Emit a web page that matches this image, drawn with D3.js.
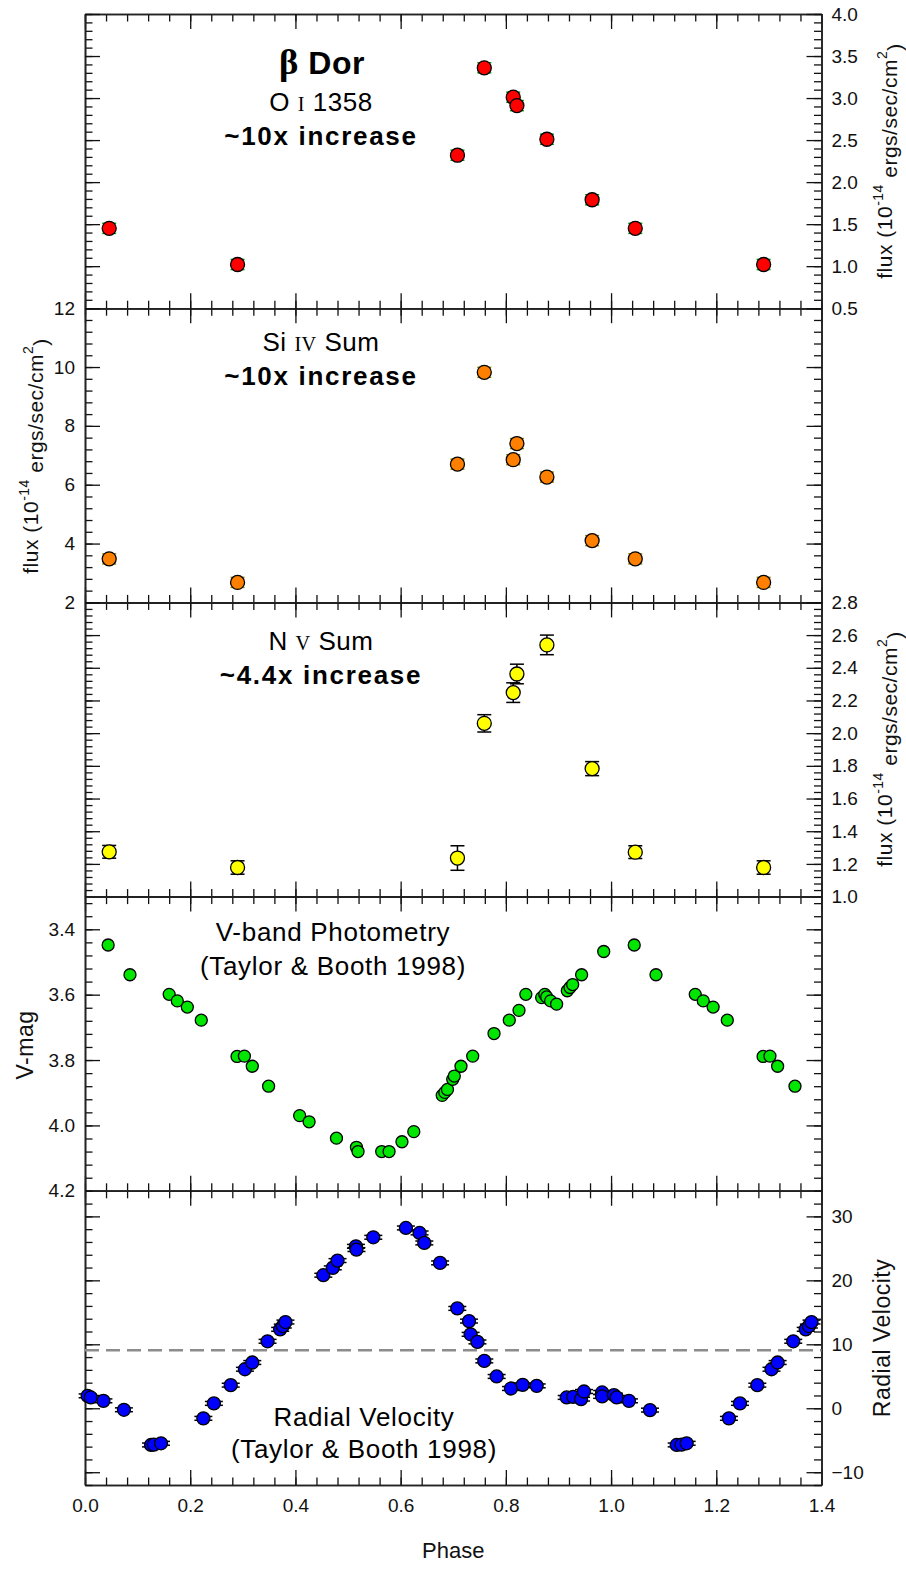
<!DOCTYPE html>
<html>
<head>
<meta charset="utf-8">
<script src="https://cdn.jsdelivr.net/npm/d3@7"></script>
<style>
  body { margin: 0; background: #fff; }
  svg { display: block; font-family: "Liberation Sans", Arial, sans-serif; }
</style>
</head>
<body>
<script>
// ---- data ----
var phaseUV = [0.046, 0.290, 0.708, 0.759, 0.814, 0.821, 0.878, 0.964, 1.046, 1.290];
var fluxOI = [1.45, 1.02, 2.32, 3.36, 3.01, 2.91, 2.51, 1.79, 1.45, 1.02];
var errOI = [0.06, 0.06, 0.06, 0.06, 0.06, 0.06, 0.06, 0.06, 0.06, 0.06];
var fluxSiIV = [3.48, 2.68, 6.70, 9.82, 6.85, 7.40, 6.26, 4.10, 3.48, 2.68];
var errSiIV = [0.17, 0.17, 0.17, 0.17, 0.17, 0.17, 0.17, 0.17, 0.17, 0.17];
var fluxNV = [1.274, 1.178, 1.236, 2.06, 2.248, 2.362, 2.54, 1.783, 1.272, 1.178];
var errNV = [0.039, 0.041, 0.075, 0.053, 0.06, 0.06, 0.06, 0.043, 0.039, 0.041];

var phaseV = [0.044, 0.0855, 0.160, 0.1755, 0.1945, 0.221, 0.289, 0.303, 0.318, 0.349,
  0.408, 0.426, 0.478, 0.516, 0.519, 0.564, 0.578, 0.6025, 0.625, 0.679,
  0.684, 0.689, 0.699, 0.702, 0.7147, 0.737, 0.7775, 0.8065, 0.825, 0.838,
  0.868, 0.874, 0.8776, 0.885, 0.8965, 0.9168, 0.922, 0.927, 0.944, 0.986,
  1.044, 1.0854, 1.160, 1.1753, 1.194, 1.2209, 1.289, 1.302, 1.3166, 1.3496];
var vmag = [3.448, 3.539, 3.599, 3.619, 3.638, 3.678, 3.789, 3.788, 3.819, 3.880,
  3.970, 3.989, 4.039, 4.067, 4.080, 4.080, 4.080, 4.050, 4.019, 3.908,
  3.899, 3.890, 3.859, 3.849, 3.819, 3.788, 3.719, 3.678, 3.648, 3.599,
  3.609, 3.599, 3.607, 3.619, 3.629, 3.588, 3.578, 3.569, 3.539, 3.468,
  3.448, 3.539, 3.599, 3.619, 3.638, 3.678, 3.789, 3.788, 3.819, 3.880];

var phaseRV = [0.005, 0.011, 0.035, 0.074, 0.1255, 0.131, 0.1445, 0.225, 0.245, 0.277,
  0.304, 0.318, 0.347, 0.371, 0.376, 0.381, 0.453, 0.471, 0.480, 0.515,
  0.516, 0.548, 0.610, 0.636, 0.645, 0.675, 0.7077, 0.730, 0.733, 0.746,
  0.759, 0.7825, 0.8097, 0.832, 0.8586, 0.9156, 0.928, 0.943, 0.9485, 0.983,
  0.983, 1.0055, 1.0106, 1.034, 1.074, 1.1247, 1.134, 1.1437, 1.224, 1.245,
  1.278, 1.305, 1.3166, 1.3463, 1.370, 1.376, 1.381];
var rv = [1.94, 1.69, 1.16, -0.24, -5.74, -5.70, -5.48, -1.58, 0.76, 3.61,
  6.10, 7.15, 10.47, 12.34, 12.85, 13.48, 20.80, 21.95, 23.09, 25.32,
  24.81, 26.73, 28.19, 27.41, 25.85, 22.73, 15.61, 13.63, 11.56, 10.37,
  7.40, 4.97, 3.09, 3.66, 3.50, 1.69, 1.78, 1.43, 2.62, 2.47,
  1.85, 2.05, 1.69, 1.16, -0.29, -5.74, -5.70, -5.48, -1.58, 0.76,
  3.61, 6.10, 7.15, 10.47, 12.34, 12.85, 13.48];
var errRV = 0.3;
var rvMean = 9.07;

var xTicks = [0.0, 0.2, 0.4, 0.6, 0.8, 1.0, 1.2, 1.4];

// ---- layout ----
var W = 906, H = 1570,
    left = 85, right = 821.5,
    top0 = 14, panelH = 294.2;

var svg = d3.select("body").append("svg")
    .attr("width", W)
    .attr("height", H);

var x = d3.scaleLinear().domain([0, 1.4]).range([left, right]);
var xMinor = d3.range(0, 1.4001, 0.04);

function rng(a, b, s) { return d3.range(a, b + s / 1000, s); }

var panels = [
  { dom: [0.5, 4.0], major: rng(0.5, 4.0, 0.5), minor: rng(0.5, 4.0, 0.1), side: "right", fmt: ".1f" },
  { dom: [2, 12], major: rng(2, 12, 2), minor: rng(2, 12, 0.4), side: "left", fmt: "d" },
  { dom: [1.0, 2.8], major: rng(1.0, 2.8, 0.2), minor: rng(1.0, 2.8, 0.04), side: "right", fmt: ".1f" },
  { dom: [4.2, 3.3], major: rng(3.4, 4.2, 0.2), minor: rng(3.32, 4.2, 0.04), side: "left", fmt: ".1f" },
  { dom: [-12, 34], major: rng(-10, 30, 10), minor: rng(-12, 34, 2), side: "right", fmt: "d" }
];

panels.forEach(function(p, i) {
  var t = top0 + i * panelH, b = t + panelH;
  p.top = t; p.bottom = b;
  p.y = d3.scaleLinear().domain(p.dom).range([b, t]);
});

function styleAxis(g) {
  g.selectAll("path").attr("stroke", "#222").attr("stroke-width", 1.6);
  g.selectAll("line").attr("stroke", "#111").attr("stroke-width", 1.3);
  g.selectAll("text").attr("font-size", "19px").attr("fill", "#111")
    .attr("font-family", "'Liberation Sans', Arial, sans-serif");
}

// ---- axes / frames ----
panels.forEach(function(p, i) {
  var g = svg.append("g").attr("class", "axes");
  var last = i === panels.length - 1;

  // top edge
  g.append("g").attr("transform", "translate(0," + p.top + ")")
    .call(d3.axisTop(x).tickValues(xMinor).tickSize(-7.5).tickSizeOuter(0).tickFormat(""))
    .call(styleAxis);
  g.append("g").attr("transform", "translate(0," + p.top + ")")
    .call(d3.axisTop(x).tickValues(xTicks).tickSize(-15).tickSizeOuter(0).tickFormat(""))
    .call(styleAxis);

  // bottom edge
  g.append("g").attr("transform", "translate(0," + p.bottom + ")")
    .call(d3.axisBottom(x).tickValues(xMinor).tickSize(-7.5).tickSizeOuter(0).tickFormat(""))
    .call(styleAxis);
  var xb = g.append("g").attr("transform", "translate(0," + p.bottom + ")")
    .call(d3.axisBottom(x).tickValues(xTicks).tickSize(-15).tickSizeOuter(0)
      .tickPadding(14).tickFormat(last ? d3.format(".1f") : ""))
    .call(styleAxis);
  if (last) {
    xb.selectAll("text")
      .attr("font-family", "'Liberation Sans Narrow', 'Arial Narrow', sans-serif")
      .attr("font-size", "19px");
  }

  // left / right edges
  ["left", "right"].forEach(function(side) {
    var ax = side === "left" ? d3.axisLeft : d3.axisRight;
    var xpos = side === "left" ? left : right;
    g.append("g").attr("transform", "translate(" + xpos + ",0)")
      .call(ax(p.y).tickValues(p.minor).tickSize(-7.5).tickSizeOuter(0).tickFormat(""))
      .call(styleAxis);
    g.append("g").attr("transform", "translate(" + xpos + ",0)")
      .call(ax(p.y).tickValues(p.major).tickSize(-15).tickSizeOuter(0).tickPadding(10)
        .tickFormat(side === p.side ? d3.format(p.fmt) : ""))
      .call(styleAxis);
  });
});

// ---- marks ----
function errorBars(p, xs, ys, es, color, capW) {
  var g = svg.append("g").attr("class", "errbars")
    .attr("stroke", color).attr("stroke-width", 1.5);
  xs.forEach(function(px, k) {
    var e = Array.isArray(es) ? es[k] : es;
    var cx = x(px), y1 = p.y(ys[k] - e), y2 = p.y(ys[k] + e);
    g.append("line").attr("x1", cx).attr("x2", cx).attr("y1", y1).attr("y2", y2);
    g.append("line").attr("x1", cx - capW).attr("x2", cx + capW).attr("y1", y1).attr("y2", y1);
    g.append("line").attr("x1", cx - capW).attr("x2", cx + capW).attr("y1", y2).attr("y2", y2);
  });
}

function dots(p, xs, ys, fill, r) {
  svg.append("g").attr("class", "dots")
    .selectAll("circle")
    .data(xs)
    .enter()
    .append("circle")
    .attr("cx", function(d) { return x(d); })
    .attr("cy", function(d, k) { return p.y(ys[k]); })
    .attr("r", r)
    .attr("fill", fill)
    .attr("stroke", "#000")
    .attr("stroke-width", 1.3);
}

// dashed mean velocity line
svg.append("line")
  .attr("x1", x(0)).attr("x2", x(1.4))
  .attr("y1", panels[4].y(rvMean)).attr("y2", panels[4].y(rvMean))
  .attr("stroke", "#8c8c8c")
  .attr("stroke-width", 2.5)
  .attr("stroke-dasharray", "14,7");

errorBars(panels[0], phaseUV, fluxOI, errOI, "#0a9a0a", 7);
dots(panels[0], phaseUV, fluxOI, "#ff0000", 7);

errorBars(panels[1], phaseUV, fluxSiIV, errSiIV, "#8c8a00", 7);
dots(panels[1], phaseUV, fluxSiIV, "#ff8000", 7);

errorBars(panels[2], phaseUV, fluxNV, errNV, "#000", 7);
dots(panels[2], phaseUV, fluxNV, "#ffff00", 7);

dots(panels[3], phaseV, vmag, "#00e600", 6);

errorBars(panels[4], phaseRV, rv, errRV, "#000", 9);
dots(panels[4], phaseRV, rv, "#0000ff", 6.5);

// ---- annotations ----
var serif = "'Liberation Serif', 'Times New Roman', serif";

function note(xp, yp, size, weight, parts, spacing) {
  var t = svg.append("text")
    .attr("x", xp).attr("y", yp)
    .attr("text-anchor", "middle")
    .attr("font-size", size + "px")
    .attr("font-weight", weight)
    .attr("letter-spacing", spacing || 0)
    .attr("fill", "#000");
  parts.forEach(function(s) {
    var sp = t.append("tspan").text(s.t);
    if (s.serif) sp.attr("font-family", serif).attr("font-size", (size * (s.scale || 0.78)) + "px");
  });
  return t;
}

note(322, 74, 32, "bold", [{ t: "β", serif: true, scale: 1.15 }, { t: " Dor" }], 0.5);
note(321, 111, 26, "normal", [{ t: "O " }, { t: "I", serif: true }, { t: " 1358" }], 0.5);
note(321, 145, 26, "bold", [{ t: "~10x increase" }], 1.7);

note(321, 351, 26, "normal", [{ t: "Si " }, { t: "IV", serif: true }, { t: " Sum" }], 0.5);
note(321, 385, 26, "bold", [{ t: "~10x increase" }], 1.7);

note(321, 650, 26, "normal", [{ t: "N " }, { t: "V", serif: true }, { t: " Sum" }], 0.5);
note(321, 684, 26, "bold", [{ t: "~4.4x increase" }], 1.7);

note(333, 941, 26, "normal", [{ t: "V-band Photometry" }], 0.7);
note(333, 975, 26, "normal", [{ t: "(Taylor & Booth 1998)" }], 0.7);

note(364, 1426, 26, "normal", [{ t: "Radial Velocity" }], 0.7);
note(364, 1458, 26, "normal", [{ t: "(Taylor & Booth 1998)" }], 0.7);

// ---- axis titles ----
function fluxTitle(cx, cy) {
  var t = svg.append("text")
    .attr("transform", "translate(" + cx + "," + cy + ") rotate(-90)")
    .attr("text-anchor", "middle")
    .attr("dy", "0.35em")
    .attr("font-size", "21px")
    .attr("letter-spacing", 0.5)
    .attr("fill", "#111");
  t.append("tspan").text("flux (10");
  t.append("tspan").attr("font-size", "14px").attr("dy", "-0.7em").text("-14");
  t.append("tspan").attr("dy", "0.7em").text(" ergs/sec/cm");
  t.append("tspan").attr("font-size", "14px").attr("dy", "-0.7em").text("2");
  t.append("tspan").attr("dy", "0.7em").text(")");
}

function sideTitle(cx, cy, txt) {
  svg.append("text")
    .attr("transform", "translate(" + cx + "," + cy + ") rotate(-90)")
    .attr("text-anchor", "middle")
    .attr("dy", "0.35em")
    .attr("font-size", "23px")
    .attr("letter-spacing", 0.5)
    .attr("fill", "#111")
    .text(txt);
}

fluxTitle(885, 161);
fluxTitle(31, 456);
fluxTitle(885, 749);
sideTitle(25, 1045, "V-mag");
sideTitle(882, 1338, "Radial Velocity");

svg.append("text")
  .attr("x", (left + right) / 2)
  .attr("y", 1558)
  .attr("text-anchor", "middle")
  .attr("font-family", "'Liberation Sans Narrow', 'Arial Narrow', sans-serif")
  .attr("font-size", "22px")
  .attr("fill", "#111")
  .text("Phase");
</script>
</body>
</html>
